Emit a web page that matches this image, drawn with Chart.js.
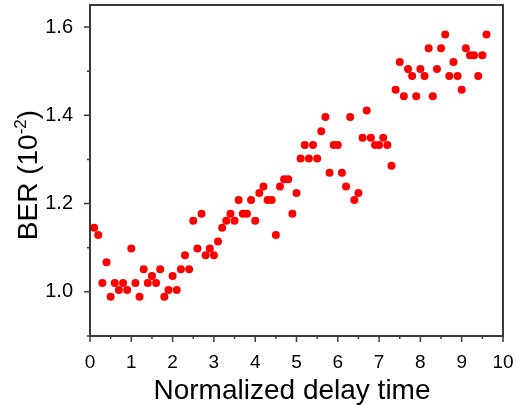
<!DOCTYPE html>
<html>
<head>
<meta charset="utf-8">
<script src="https://cdn.jsdelivr.net/npm/chart.js@4"></script>
<style>
  html, body { margin: 0; padding: 0; background: #fff; }
  #wrap { width: 516px; height: 406px; }
</style>
</head>
<body>
<div id="wrap"><canvas id="berChart" width="516" height="406"></canvas></div>
<script>
// delay time (normalized) and BER readings in units of 1e-2
const delayTimes = [
  0.1, 0.2, 0.3, 0.4, 0.5, 0.6, 0.7, 0.8, 0.9, 1.0,
  1.1, 1.2, 1.3, 1.4, 1.5, 1.6, 1.7, 1.8, 1.9, 2.0,
  2.1, 2.2, 2.3, 2.4, 2.5, 2.6, 2.7, 2.8, 2.9, 3.0,
  3.1, 3.2, 3.3, 3.4, 3.5, 3.6, 3.7, 3.8, 3.9, 4.0,
  4.1, 4.2, 4.3, 4.4, 4.5, 4.6, 4.7, 4.8, 4.9, 5.0,
  5.1, 5.2, 5.3, 5.4, 5.5, 5.6, 5.7, 5.8, 5.9, 6.0,
  6.1, 6.2, 6.3, 6.4, 6.5, 6.6, 6.7, 6.8, 6.9, 7.0,
  7.1, 7.2, 7.3, 7.4, 7.5, 7.6, 7.7, 7.8, 7.9, 8.0,
  8.1, 8.2, 8.3, 8.4, 8.5, 8.6, 8.7, 8.8, 8.9, 9.0,
  9.1, 9.2, 9.3, 9.4, 9.5, 9.6
];
const berValues = [
  1.145, 1.129, 1.020, 1.067, 0.989, 1.020, 1.004, 1.020, 1.004, 1.098,
  1.020, 0.989, 1.051, 1.020, 1.036, 1.020, 1.051, 0.989, 1.004, 1.036,
  1.004, 1.051, 1.083, 1.051, 1.161, 1.098, 1.177, 1.083, 1.098, 1.083,
  1.114, 1.145, 1.161, 1.177, 1.161, 1.208, 1.177, 1.177, 1.208, 1.161,
  1.224, 1.239, 1.208, 1.208, 1.129, 1.239, 1.255, 1.255, 1.177, 1.224,
  1.302, 1.333, 1.302, 1.333, 1.302, 1.364, 1.396, 1.270, 1.333, 1.333,
  1.270, 1.239, 1.396, 1.208, 1.224, 1.349, 1.411, 1.349, 1.333, 1.333,
  1.349, 1.333, 1.286, 1.458, 1.521, 1.443, 1.505, 1.489, 1.443, 1.505,
  1.489, 1.552, 1.443, 1.505, 1.552, 1.583, 1.489, 1.521, 1.489, 1.458,
  1.552, 1.536, 1.536, 1.489, 1.536, 1.583
];

const xTicks = [0, 1, 2, 3, 4, 5, 6, 7, 8, 9, 10];
const xMinorTicks = [0.5, 1.5, 2.5, 3.5, 4.5, 5.5, 6.5, 7.5, 8.5, 9.5];
const yTicks = [1.0, 1.2, 1.4, 1.6];
const yMinorTicks = [0.9, 1.1, 1.3, 1.5];

const FONT = "'Liberation Sans', Arial, sans-serif";
const AXIS_COLOR = '#3a3a3a';

// frame, tick marks and axis titles (Origin-like look)
const framePlugin = {
    id: 'frame',
    afterDraw(chart) {
        const ctx = chart.ctx;
        const a = chart.chartArea;
        const xs = chart.scales.x;
        const ys = chart.scales.y;
        ctx.save();
        ctx.strokeStyle = AXIS_COLOR;
        ctx.lineWidth = 2;
        ctx.strokeRect(a.left, a.top, a.right - a.left, a.bottom - a.top);

        ctx.lineWidth = 1.5;
        ctx.beginPath();
        xTicks.forEach(v => {
            const px = xs.getPixelForValue(v);
            ctx.moveTo(px, a.bottom); ctx.lineTo(px, a.bottom + 6);
        });
        xMinorTicks.forEach(v => {
            const px = xs.getPixelForValue(v);
            ctx.moveTo(px, a.bottom); ctx.lineTo(px, a.bottom + 3);
        });
        yTicks.forEach(v => {
            const py = ys.getPixelForValue(v);
            ctx.moveTo(a.left, py); ctx.lineTo(a.left - 6, py);
        });
        yMinorTicks.forEach(v => {
            const py = ys.getPixelForValue(v);
            ctx.moveTo(a.left, py); ctx.lineTo(a.left - 3, py);
        });
        ctx.stroke();

        // x title
        ctx.fillStyle = '#000';
        ctx.font = '28px ' + FONT;
        ctx.textAlign = 'center';
        ctx.textBaseline = 'alphabetic';
        ctx.fillText('Normalized delay time', 292, 399);

        // y title with superscript
        ctx.translate(37, 175);
        ctx.rotate(-Math.PI / 2);
        const main = 'BER (10';
        const sup = '-2';
        const close = ')';
        ctx.font = '28px ' + FONT;
        const wMain = ctx.measureText(main).width;
        const wClose = ctx.measureText(close).width;
        ctx.font = '17px ' + FONT;
        const wSup = ctx.measureText(sup).width;
        let x = -(wMain + wSup + wClose) / 2;
        ctx.textAlign = 'left';
        ctx.font = '28px ' + FONT;
        ctx.fillText(main, x, 0);
        x += wMain;
        ctx.font = '17px ' + FONT;
        ctx.fillText(sup, x, -11);
        x += wSup;
        ctx.font = '28px ' + FONT;
        ctx.fillText(close, x, 0);
        ctx.restore();
    }
};

new Chart(document.getElementById('berChart'), {
    type: 'scatter',
    data: {
        datasets: [{
            data: delayTimes.map((t, i) => ({ x: t, y: berValues[i] })),
            backgroundColor: '#ff0000',
            borderWidth: 0,
            pointRadius: 4,
            pointHoverRadius: 4
        }]
    },
    options: {
        responsive: false,
        animation: false,
        layout: { padding: { left: 0, right: 13, top: 5, bottom: 0 } },
        plugins: {
            legend: { display: false },
            tooltip: { enabled: false }
        },
        scales: {
            x: {
                type: 'linear',
                min: 0,
                max: 10,
                grid: { display: false },
                border: { display: false },
                afterBuildTicks: scale => { scale.ticks = xTicks.map(v => ({ value: v })); },
                afterFit: scale => {
                    scale.height = 70;
                    scale.paddingLeft = 0;
                    scale.paddingRight = 0;
                },
                ticks: {
                    color: '#000',
                    padding: 7,
                    maxRotation: 0,
                    font: { family: FONT, size: 19 },
                    callback: v => String(v)
                }
            },
            y: {
                type: 'linear',
                min: 0.9,
                max: 1.65,
                grid: { display: false },
                border: { display: false },
                afterBuildTicks: scale => { scale.ticks = yTicks.map(v => ({ value: v })); },
                afterFit: scale => {
                    scale.width = 90;
                    scale.paddingTop = 0;
                    scale.paddingBottom = 0;
                },
                ticks: {
                    color: '#000',
                    padding: 9,
                    font: { family: FONT, size: 20 },
                    callback: v => v.toFixed(1)
                }
            }
        }
    },
    plugins: [framePlugin]
});
</script>
</body>
</html>
